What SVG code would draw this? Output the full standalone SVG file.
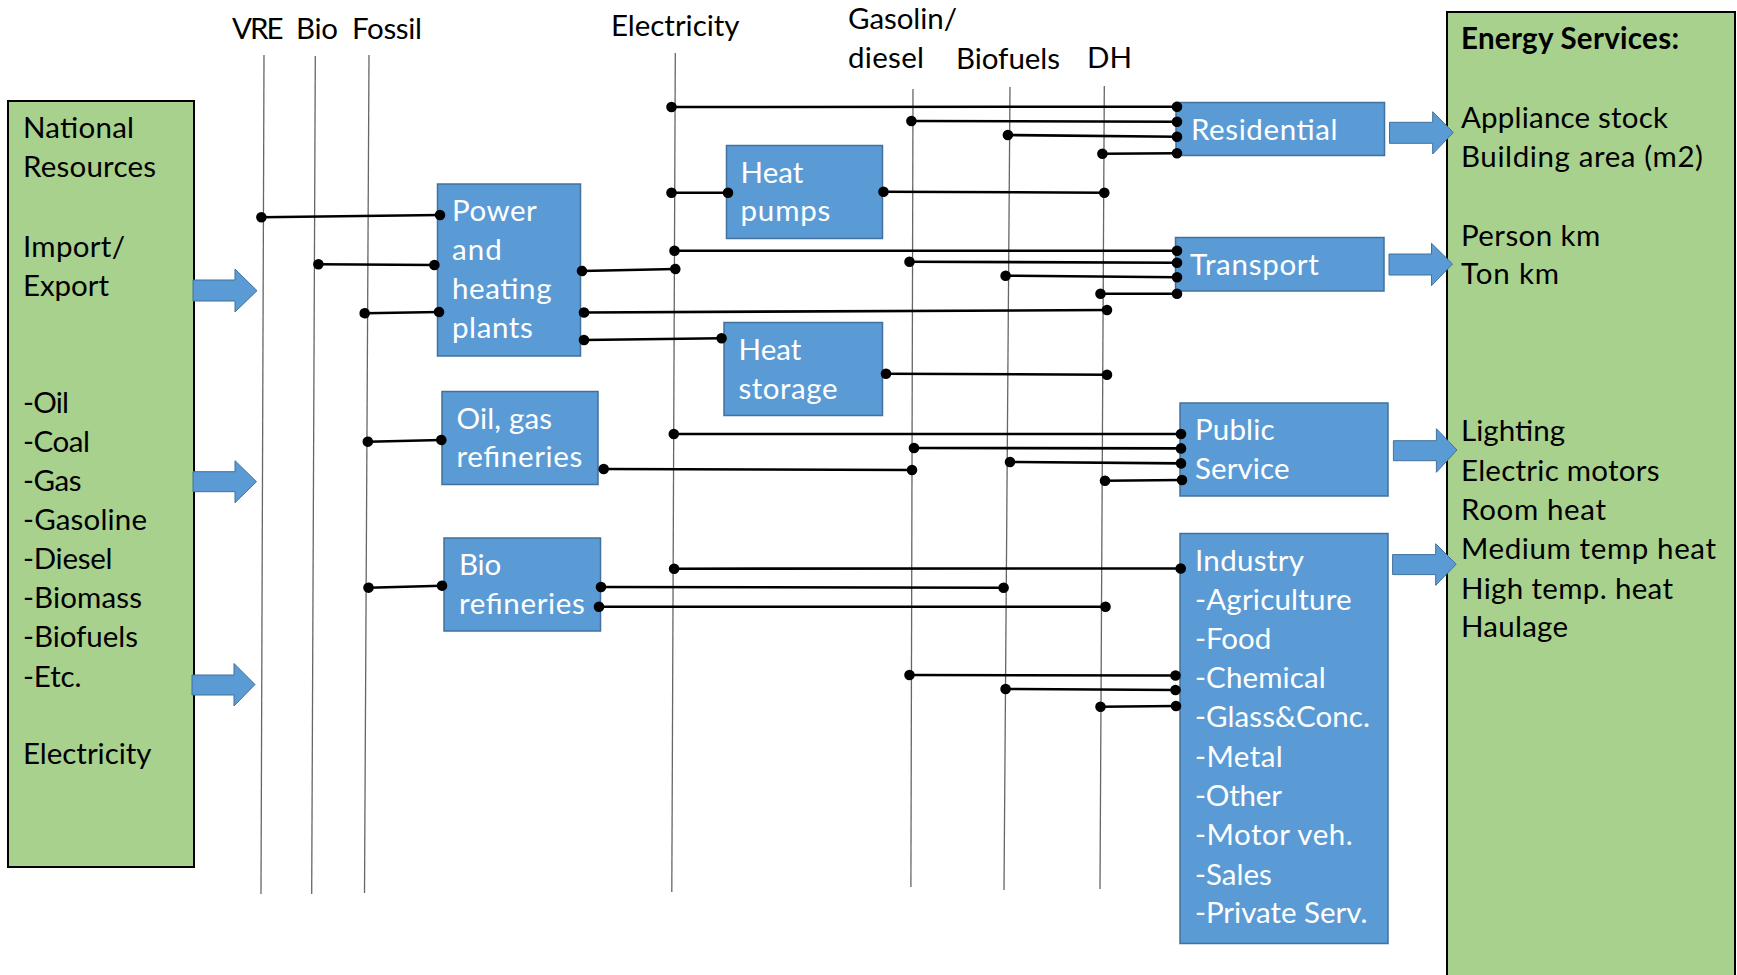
<svg xmlns="http://www.w3.org/2000/svg" width="1737" height="975" viewBox="0 0 1737 975">
<style>
.t{font-family:Lato,"Liberation Sans",sans-serif;font-size:29.5px;fill:#000}
.w{fill:#fff}
.b{font-weight:bold}
.box{fill:#5B9BD5;stroke:#41719C;stroke-width:1.5}
.green{fill:#A9D18E;stroke:#000;stroke-width:2}
.bus{stroke:#666;stroke-width:1.3;fill:none}
.c{stroke:#000;stroke-width:2.6;fill:none;marker-start:url(#dot);marker-end:url(#dot)}
.arr{fill:#5B9BD5;stroke:#41719C;stroke-width:1}
</style>
<defs>
<marker id="dot" markerUnits="userSpaceOnUse" markerWidth="12" markerHeight="12" refX="6" refY="6" orient="auto"><circle cx="6" cy="6" r="5.3" fill="#000"/></marker>
</defs>
<rect width="1737" height="975" fill="#fff"/>

<g id="headers">
<text class="t" x="232" y="39" textLength="51.5">VRE</text>
<text class="t" x="296" y="39" textLength="42">Bio</text>
<text class="t" x="352" y="39" textLength="70">Fossil</text>
<text class="t" x="611" y="36" textLength="128.5">Electricity</text>
<text class="t" x="848" y="29" textLength="109">Gasolin/</text>
<text class="t" x="848" y="68" textLength="76">diesel</text>
<text class="t" x="956" y="69" textLength="104">Biofuels</text>
<text class="t" x="1087" y="68">DH</text>
</g>

<g id="buses">
<line class="bus" x1="264" y1="55" x2="261" y2="894"/>
<line class="bus" x1="315.3" y1="56" x2="311.7" y2="894"/>
<line class="bus" x1="369" y1="55" x2="364.5" y2="893"/>
<line class="bus" x1="675.3" y1="53" x2="671.8" y2="892"/>
<line class="bus" x1="913" y1="89" x2="910.9" y2="887"/>
<line class="bus" x1="1010" y1="87" x2="1004" y2="890"/>
<line class="bus" x1="1104.3" y1="86" x2="1100" y2="889"/>
</g>

<g id="national-resources">
<rect class="green" x="8" y="101" width="186" height="766"/>
<text class="t" x="23" y="138" textLength="111">National</text>
<text class="t" x="23" y="177" textLength="133">Resources</text>
<text class="t" x="23" y="257" textLength="102">Import/</text>
<text class="t" x="23" y="296" textLength="86">Export</text>
<text class="t" x="23" y="413" textLength="46">-Oil</text>
<text class="t" x="23" y="452" textLength="67">-Coal</text>
<text class="t" x="23" y="491" textLength="58.5">-Gas</text>
<text class="t" x="23" y="530" textLength="124">-Gasoline</text>
<text class="t" x="23" y="569" textLength="89.5">-Diesel</text>
<text class="t" x="23" y="608" textLength="119">-Biomass</text>
<text class="t" x="23" y="647" textLength="115">-Biofuels</text>
<text class="t" x="23" y="687" textLength="58.5">-Etc.</text>
<text class="t" x="23" y="764" textLength="128.5">Electricity</text>
</g>

<g id="energy-services">
<rect class="green" x="1447" y="12" width="288" height="975"/>
<text class="t b" x="1461" y="49" textLength="218">Energy Services:</text>
<text class="t" x="1461" y="128" textLength="207">Appliance stock</text>
<text class="t" x="1461" y="167" textLength="242">Building area (m2)</text>
<text class="t" x="1461" y="246" textLength="139.3">Person km</text>
<text class="t" x="1461" y="284" textLength="98">Ton km</text>
<text class="t" x="1461" y="441" textLength="104">Lighting</text>
<text class="t" x="1461" y="481" textLength="198.5">Electric motors</text>
<text class="t" x="1461" y="520" textLength="145">Room heat</text>
<text class="t" x="1461" y="559" textLength="255">Medium temp heat</text>
<text class="t" x="1461" y="599" textLength="212">High temp. heat</text>
<text class="t" x="1461" y="637" textLength="107">Haulage</text>
</g>

<g id="power-plants">
<rect class="box" x="437.5" y="184" width="143" height="172"/>
<text class="t w" x="452" y="221" textLength="84.7">Power</text>
<text class="t w" x="452" y="260" textLength="49.7">and</text>
<text class="t w" x="452" y="299" textLength="99.5">heating</text>
<text class="t w" x="452" y="338" textLength="80.7">plants</text>
</g>

<g id="heat-pumps">
<rect class="box" x="726.5" y="145.5" width="156" height="93"/>
<text class="t w" x="740.5" y="183" textLength="62.9">Heat</text>
<text class="t w" x="740.5" y="221" textLength="89.9">pumps</text>
</g>

<g id="heat-storage">
<rect class="box" x="724" y="322.5" width="158.5" height="93"/>
<text class="t w" x="738.5" y="360" textLength="62.9">Heat</text>
<text class="t w" x="738.5" y="399" textLength="99">storage</text>
</g>

<g id="oil-gas-refineries">
<rect class="box" x="442" y="391.5" width="156" height="93"/>
<text class="t w" x="456.5" y="429" textLength="95.5">Oil, gas</text>
<text class="t w" x="456.5" y="467" textLength="125.8">refineries</text>
</g>

<g id="bio-refineries">
<rect class="box" x="444" y="538" width="156.5" height="93"/>
<text class="t w" x="459" y="575" textLength="42.3">Bio</text>
<text class="t w" x="459" y="614" textLength="125.8">refineries</text>
</g>

<g id="residential">
<rect class="box" x="1176" y="102.5" width="208.5" height="53"/>
<text class="t w" x="1191" y="140" textLength="146.5">Residential</text>
</g>

<g id="transport">
<rect class="box" x="1175.5" y="237.5" width="208.5" height="53.5"/>
<text class="t w" x="1190" y="275" textLength="128.9">Transport</text>
</g>

<g id="public-service">
<rect class="box" x="1180" y="403" width="208" height="93"/>
<text class="t w" x="1195" y="440" textLength="79.6">Public</text>
<text class="t w" x="1195" y="479" textLength="94.5">Service</text>
</g>

<g id="industry">
<rect class="box" x="1180" y="533.5" width="208" height="410"/>
<text class="t w" x="1195" y="571" textLength="109">Industry</text>
<text class="t w" x="1195" y="610" textLength="156.6">-Agriculture</text>
<text class="t w" x="1195" y="649" textLength="76.2">-Food</text>
<text class="t w" x="1195" y="688" textLength="130.7">-Chemical</text>
<text class="t w" x="1195" y="727" textLength="175">-Glass&amp;Conc.</text>
<text class="t w" x="1195" y="767" textLength="87.8">-Metal</text>
<text class="t w" x="1195" y="806" textLength="86.9">-Other</text>
<text class="t w" x="1195" y="845" textLength="157.7">-Motor veh.</text>
<text class="t w" x="1195" y="885" textLength="76.8">-Sales</text>
<text class="t w" x="1195" y="923" textLength="172.5">-Private Serv.</text>
</g>

<g id="block-arrows">
<polygon class="arr" points="193,280 235,280 235,269 257,290.7 235,312 235,301 193,301"/>
<polygon class="arr" points="193,471.7 235,471.7 235,460.7 256.5,481.7 235,502.7 235,491.7 193,491.7"/>
<polygon class="arr" points="192,675 234,675 234,663.5 255,684.5 234,706 234,695 192,695"/>
<polygon class="arr" points="1389.5,122.3 1432.7,122.3 1432.7,111.7 1453.3,132.5 1432.7,154 1432.7,143.3 1389.5,143.3"/>
<polygon class="arr" points="1389,254 1431.5,254 1431.5,243.3 1452.5,264 1431.5,285.7 1431.5,275 1389,275"/>
<polygon class="arr" points="1393.4,440.7 1436.4,440.7 1436.4,428.7 1457,450 1436.4,472.3 1436.4,460.7 1393.4,460.7"/>
<polygon class="arr" points="1392.6,554.6 1435.7,554.6 1435.7,543.7 1456.2,564.2 1435.7,585.4 1435.7,574.6 1392.6,574.6"/>
</g>

<g id="connectors">
<line class="c" x1="261.4" y1="217.3" x2="440" y2="215"/>
<line class="c" x1="318.4" y1="264.3" x2="434.4" y2="265"/>
<line class="c" x1="364.7" y1="313.3" x2="439" y2="312"/>
<line class="c" x1="582" y1="271" x2="675.3" y2="269"/>
<line class="c" x1="584" y1="312.5" x2="1107" y2="310"/>
<line class="c" x1="584" y1="340" x2="721.6" y2="338.3"/>
<line class="c" x1="671.5" y1="107" x2="1177" y2="106.7"/>
<line class="c" x1="911.4" y1="121" x2="1177" y2="121.7"/>
<line class="c" x1="1007.9" y1="135" x2="1177" y2="136.7"/>
<line class="c" x1="1102.4" y1="153.7" x2="1177" y2="153.3"/>
<line class="c" x1="671.5" y1="192.7" x2="728" y2="192.7"/>
<line class="c" x1="883.5" y1="191.7" x2="1104.3" y2="192.7"/>
<line class="c" x1="674.5" y1="250.7" x2="1177" y2="250.7"/>
<line class="c" x1="909.5" y1="261.7" x2="1177" y2="262.7"/>
<line class="c" x1="1005.6" y1="275.7" x2="1177" y2="277.3"/>
<line class="c" x1="1100.5" y1="293.7" x2="1177" y2="293.7"/>
<line class="c" x1="886" y1="373.7" x2="1107" y2="374.7"/>
<line class="c" x1="367.8" y1="441.7" x2="441.3" y2="440"/>
<line class="c" x1="603.7" y1="469" x2="912" y2="470"/>
<line class="c" x1="673.8" y1="434" x2="1181" y2="434"/>
<line class="c" x1="914" y1="448" x2="1181" y2="448.4"/>
<line class="c" x1="1010" y1="462" x2="1181" y2="463.4"/>
<line class="c" x1="1105" y1="480.7" x2="1182" y2="480"/>
<line class="c" x1="368.5" y1="587.7" x2="442" y2="585.7"/>
<line class="c" x1="674.1" y1="568.7" x2="1180.7" y2="568.5"/>
<line class="c" x1="601" y1="587" x2="1003.6" y2="587.7"/>
<line class="c" x1="599" y1="606.7" x2="1105.5" y2="606.7"/>
<line class="c" x1="909.5" y1="675" x2="1175.5" y2="675.5"/>
<line class="c" x1="1005.6" y1="689" x2="1175.5" y2="690"/>
<line class="c" x1="1100.5" y1="706.7" x2="1176" y2="706"/>
</g>
</svg>
